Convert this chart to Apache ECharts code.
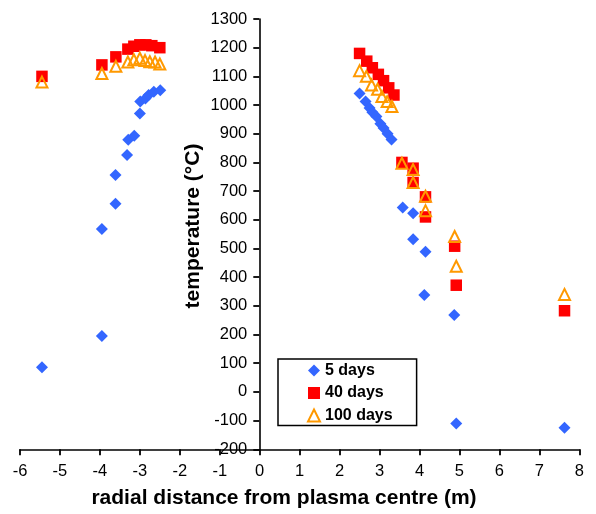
<!DOCTYPE html>
<html><head><meta charset="utf-8">
<script src="https://cdn.jsdelivr.net/npm/echarts@6/dist/echarts.min.js"></script>
<style>html,body{margin:0;padding:0;background:#fff}#c{width:596px;height:514px}</style>
</head><body><div id="c"></div>
<script>
const seriesNames = ['5 days', '40 days', '100 days'];
const xTicks = [-6, 8, 1];
const yTicks = [-200, 1300, 100];
const days5 = [[-5.45,86],[-3.95,195],[-3.95,568],[-3.61,656],[-3.61,756],[-3.32,826],[-3.29,879],[-3.14,893],[-3.0,971],[-2.99,1012],[-2.86,1023],[-2.78,1035],[-2.65,1046],[-2.49,1052],
  [2.5,1040],[2.65,1012],[2.75,990],[2.82,975],[2.92,960],[3.02,935],[3.1,920],[3.2,900],[3.3,880],
  [3.58,643],[3.84,623],[3.84,532],[4.15,489],[4.12,338],[4.87,268],[4.92,-110],[7.63,-125]];
const days40 = [[-5.45,1100],[-3.95,1140],[-3.6,1168],[-3.3,1195],[-3.15,1205],[-3.0,1210],[-2.85,1210],[-2.7,1207],[-2.5,1200],
  [2.5,1180],[2.68,1153],[2.82,1130],[2.97,1107],[3.1,1085],[3.23,1060],[3.36,1035],[3.56,800],[3.84,780],[3.84,730],[4.15,680],[4.15,610],[4.88,508],[4.92,372],[7.63,283]];
const days100 = [[-5.45,1080],[-3.95,1110],[-3.6,1135],[-3.3,1150],[-3.15,1158],[-3.0,1163],[-2.87,1155],[-2.75,1151],[-2.62,1150],[-2.5,1143],
  [2.5,1120],[2.67,1100],[2.8,1070],[2.95,1055],[3.06,1030],[3.19,1012],[3.31,995],[3.56,797],[3.84,775],[3.84,730],[4.15,682],[4.15,632],[4.88,542],[4.92,438],[7.63,340]];
const xTitle = 'radial distance from plasma centre (m)';
const yTitle = 'temperature (°C)';

const FONT = "'Liberation Sans', Arial, Helvetica, sans-serif";
const chart = echarts.init(document.getElementById('c'), null, {renderer: 'canvas'});
const axisLine = {show: true, lineStyle: {color: '#000', width: 1.6}};
const tick = {show: true, inside: false, length: 6, lineStyle: {color: '#000', width: 1.8}};
const plain = v => String(v);
chart.setOption({
  animation: false,
  textStyle: {fontFamily: FONT},
  grid: {left: 20, right: 16.7, top: 19, bottom: 64.7, containLabel: false, outerBoundsMode: 'none'},
  xAxis: {
    type: 'value', min: xTicks[0], max: xTicks[1], interval: xTicks[2],
    axisLine: Object.assign({onZero: false}, axisLine),
    axisTick: tick,
    splitLine: {show: false},
    axisLabel: {color: '#000', fontSize: 16.5, fontFamily: FONT, margin: 14, formatter: plain}
  },
  yAxis: {
    type: 'value', min: yTicks[0], max: yTicks[1], interval: yTicks[2],
    position: 'left', offset: -239.3,
    axisLine: Object.assign({onZero: false}, axisLine),
    axisTick: tick,
    splitLine: {show: false},
    axisLabel: {color: '#000', fontSize: 16.5, fontFamily: FONT, margin: 12, formatter: plain}
  },
  legend: {
    orient: 'vertical', left: 278, top: 359,
    backgroundColor: '#fff',
    borderColor: '#000', borderWidth: 1.5,
    padding: [3.5, 24, 2, 29],
    itemWidth: 12, itemHeight: 12, itemGap: 6.5,
    textStyle: {color: '#000', fontSize: 16, fontWeight: 'bold', fontFamily: FONT, lineHeight: 16},
    data: [
      {name: seriesNames[0], icon: 'diamond'},
      {name: seriesNames[1], icon: 'rect'},
      {name: seriesNames[2], icon: 'triangle', itemStyle: {color: 'rgba(0,0,0,0)', borderColor: '#ff9900', borderWidth: 2}}
    ]
  },
  series: [
    {name: seriesNames[0], type: 'scatter', symbol: 'diamond', symbolSize: 12, data: days5,
     itemStyle: {color: '#3366ff', opacity: 1}, z: 2},
    {name: seriesNames[1], type: 'scatter', symbol: 'rect', symbolSize: 11.5, data: days40,
     itemStyle: {color: '#ff0000', opacity: 1}, z: 3},
    {name: seriesNames[2], type: 'scatter', symbol: 'triangle', symbolSize: 11, data: days100,
     itemStyle: {color: 'rgba(0,0,0,0)', borderColor: '#ff9900', borderWidth: 2, opacity: 1}, z: 4}
  ],
  graphic: [
    {type: 'text', x: 284, y: 498, style: {text: xTitle, fill: '#000', font: "bold 21px " + FONT, textAlign: 'center', textVerticalAlign: 'middle'}},
    {type: 'text', x: 193, y: 226, rotation: Math.PI / 2, style: {text: yTitle, fill: '#000', font: "bold 21px " + FONT, textAlign: 'center', textVerticalAlign: 'middle'}}
  ]
});
</script></body></html>
